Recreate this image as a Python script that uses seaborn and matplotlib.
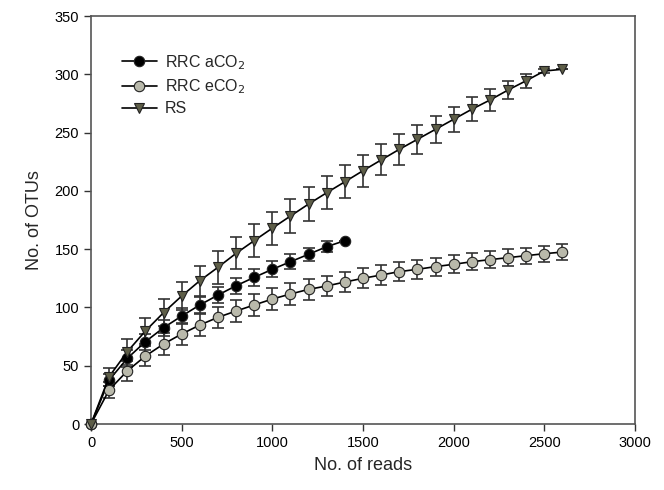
import numpy as np
import pandas as pd
import matplotlib
matplotlib.use("Agg")
import matplotlib.pyplot as plt
import seaborn as sns
from matplotlib.lines import Line2D

sns.set_style("ticks")
plt.rcParams['font.family'] = ['Liberation Sans', 'DejaVu Sans']

reads_a = [0, 100, 200, 300, 400, 500, 600, 700, 800, 900, 1000, 1100, 1200, 1300, 1400]
otus_a = [0, 37.7, 56.3, 70.6, 82.6, 92.6, 102.1, 110.6, 118.6, 125.8, 132.7, 139.2, 145.6, 152.1, 157.3]
err_a = [0, 5, 7, 7, 7, 7, 7, 7, 7, 7, 7, 6.5, 5.7, 4.7, 0]

reads_e = [0, 100, 200, 300, 400, 500, 600, 700, 800, 900, 1000, 1100, 1200, 1300,
           1400, 1500, 1600, 1700, 1800, 1900, 2000, 2100, 2200, 2300, 2400, 2500, 2600]
otus_e = [0, 29.2, 45.5, 58.3, 68.6, 77.2, 84.9, 91.5, 96.9, 102.1, 107.2, 111.5, 115.5, 118.4,
          121.8, 125.0, 127.8, 130.7, 132.7, 135.0, 137.0, 139.2, 141.0, 142.7, 144.4, 146.1, 147.5]
err_e = [0, 7.1, 8.6, 8.9, 9.3, 9.2, 9.2, 9.2, 9.1, 9.1, 9.1, 9.1, 9.1, 8.9,
         8.8, 8.6, 8.4, 8.2, 8.0, 7.8, 7.6, 7.4, 7.2, 7.0, 6.9, 6.8, 6.6]

reads_rs = [0, 100, 200, 300, 400, 500, 600, 700, 800, 900, 1000, 1100, 1200, 1300,
            1400, 1500, 1600, 1700, 1800, 1900, 2000, 2100, 2200, 2300, 2400, 2500, 2600]
otus_rs = [0, 40.6, 62.0, 79.8, 95.5, 109.8, 122.9, 134.4, 146.4, 157.3, 168.0, 178.4, 188.7, 198.4,
           207.8, 217.3, 226.5, 235.6, 244.2, 252.8, 261.4, 270.0, 277.9, 286.5, 294.5, 302.8, 304.3]
err_rs = [0, 7.6, 11.0, 11.4, 11.6, 12.2, 12.9, 13.9, 13.6, 14.0, 14.2, 14.3, 14.3, 14.2,
          14.0, 13.7, 13.3, 13.0, 12.4, 11.6, 10.9, 10.3, 9.4, 8.1, 5.9, 2.0, 0]

labels = ["RRC aCO$_2$", "RRC eCO$_2$", "RS"]

df = pd.concat([
    pd.DataFrame({"reads": reads_a, "otus": otus_a, "err": err_a, "group": labels[0]}),
    pd.DataFrame({"reads": reads_e, "otus": otus_e, "err": err_e, "group": labels[1]}),
    pd.DataFrame({"reads": reads_rs, "otus": otus_rs, "err": err_rs, "group": labels[2]}),
], ignore_index=True)

fills = {labels[0]: "#000000", labels[1]: "#b9b9ab", labels[2]: "#5e5e48"}
markers = {labels[0]: "o", labels[1]: "o", labels[2]: "v"}

fig = plt.figure(figsize=(6.64, 4.9), dpi=100)
ax = fig.add_axes([91/664, 1-424/490, (635-91)/664, (424-16)/490])

for g in labels[::-1]:
    sub = df[df.group == g]
    ax.errorbar(sub.reads, sub.otus, yerr=sub.err, fmt="none", ecolor="#333333",
                elinewidth=1.2, capsize=4.5, capthick=1.2, zorder=2)

sns.lineplot(data=df, x="reads", y="otus", hue="group", style="group",
             palette={g: "#000000" for g in labels}, markers=markers, dashes=False,
             hue_order=labels, style_order=labels, ax=ax, linewidth=1.2, zorder=3,
             markersize=7.5, markeredgecolor="#222222", markeredgewidth=0.8, legend=False)

for line, g in zip(ax.get_lines()[-3:], labels):
    line.set_markerfacecolor(fills[g])
    line.set_clip_on(False)

handles = [Line2D([], [], color="black", lw=1.2, marker=markers[g], markersize=7.5,
                  markerfacecolor=fills[g], markeredgecolor="#222222", markeredgewidth=0.8)
           for g in labels]
ax.legend(handles, labels, loc="upper left", bbox_to_anchor=(0.03, 0.945), frameon=False,
          fontsize=11.5, handlelength=2.2, labelspacing=0.35, handletextpad=0.5)

ax.set_xlim(0, 3000)
ax.set_ylim(0, 350)
ax.set_xticks(np.arange(0, 3001, 500))
ax.set_yticks(np.arange(0, 351, 50))
ax.tick_params(direction="out", length=5, width=1, labelsize=10.5, colors="#333333",
               labelcolor="black", top=False, right=False)
for s in ax.spines.values():
    s.set_color("#555555")
    s.set_linewidth(1.2)
    s.set_visible(True)
ax.set_xlabel("No. of reads", fontsize=13, labelpad=5)
ax.set_ylabel("No. of OTUs", fontsize=13, labelpad=8)

fig.savefig("out.png", dpi=100)
